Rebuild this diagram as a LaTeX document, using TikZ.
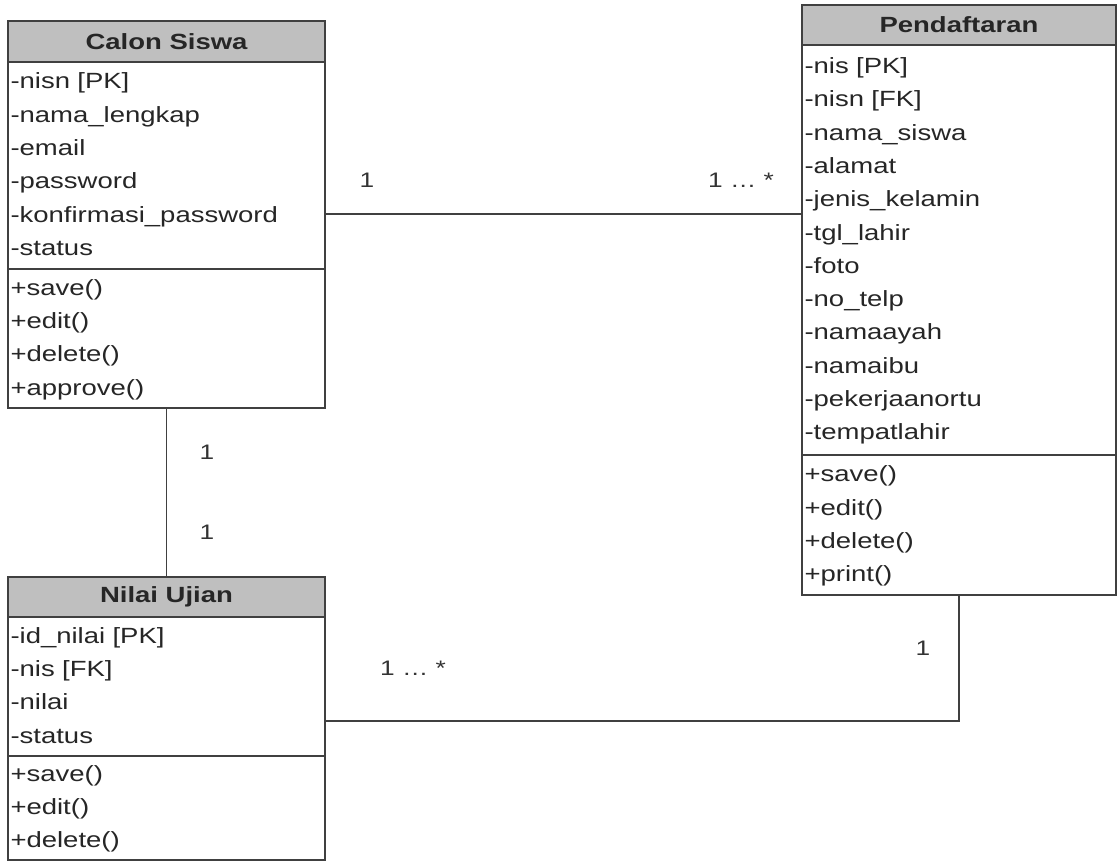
\documentclass[tikz,border=0pt]{standalone}
\usepackage{fontspec}
\setmainfont[FakeStretch=1.25]{Liberation Sans}
\usetikzlibrary{positioning}

\begin{document}
\begin{tikzpicture}[x=1pt, y=1pt, line width=1.4pt,
    classhead/.style = {draw=black!75, fill=gray!50, outer sep=0, inner sep=0,
      minimum height=40, font=\fontsize{22}{26}\selectfont\bfseries, text=black!85},
    compart/.style = {draw=black!75, fill=white, outer sep=0, inner xsep=2.5, inner ysep=0,
      align=left, font=\fontsize{22}{33.3}\selectfont, text=black!85,
      execute at begin node=\strut, execute at end node=\strut},
    mult/.style = {font=\fontsize{21}{25}\selectfont, text=black!80}]
  \useasboundingbox (0,0) rectangle (1118,-862);

  % Calon Siswa
  \node[classhead, minimum width=317, minimum height=41] (calonHead) at (166.5,-41.5) {Calon Siswa};
  \node[compart, text width=312, minimum height=207, below=0 of calonHead] (calonAttr)
    {-nisn [PK]\\-nama\_lengkap\\-email\\-password\\-konfirmasi\_password\\-status};
  \node[compart, text width=312, minimum height=139, below=0 of calonAttr] (calonOps)
    {+save()\\+edit()\\+delete()\\+approve()};

  % Pendaftaran
  \node[classhead, minimum width=314] (daftarHead) at (959,-25) {Pendaftaran};
  \node[compart, text width=309, minimum height=410, below=0 of daftarHead] (daftarAttr)
    {-nis [PK]\\-nisn [FK]\\-nama\_siswa\\-alamat\\-jenis\_kelamin\\-tgl\_lahir\\-foto\\-no\_telp\\
     -namaayah\\-namaibu\\-pekerjaanortu\\-tempatlahir};
  \node[compart, text width=309, minimum height=140, below=0 of daftarAttr] (daftarOps)
    {+save()\\+edit()\\+delete()\\+print()};

  % Nilai Ujian
  \node[classhead, minimum width=317] (nilaiHead) at (166.5,-597) {Nilai Ujian};
  \node[compart, text width=312, minimum height=139, below=0 of nilaiHead] (nilaiAttr)
    {-id\_nilai [PK]\\-nis [FK]\\-nilai\\-status};
  \node[compart, text width=312, minimum height=104, below=0 of nilaiAttr] (nilaiOps)
    {+save()\\+edit()\\+delete()};

  % relasi
  \draw[black!75] ([yshift=-48.5]calonAttr.east) -- ([yshift=-48.5]calonAttr.east -| daftarAttr.west);
  \draw[black!75] (calonOps.south) -- (nilaiHead.north);
  \draw[black!75] (daftarOps.south) |- ([yshift=-34.5]nilaiAttr.east);

  \node[mult] (m1) at (367,-180) {1};
  \node[mult] (m2) at (741,-180) {1 … *};
  \node[mult] (m3) at (207,-452) {1};
  \node[mult] (m4) at (207,-532) {1};
  \node[mult] (m5) at (413,-668) {1 … *};
  \node[mult] (m6) at (923,-648) {1};
\end{tikzpicture}
\end{document}
